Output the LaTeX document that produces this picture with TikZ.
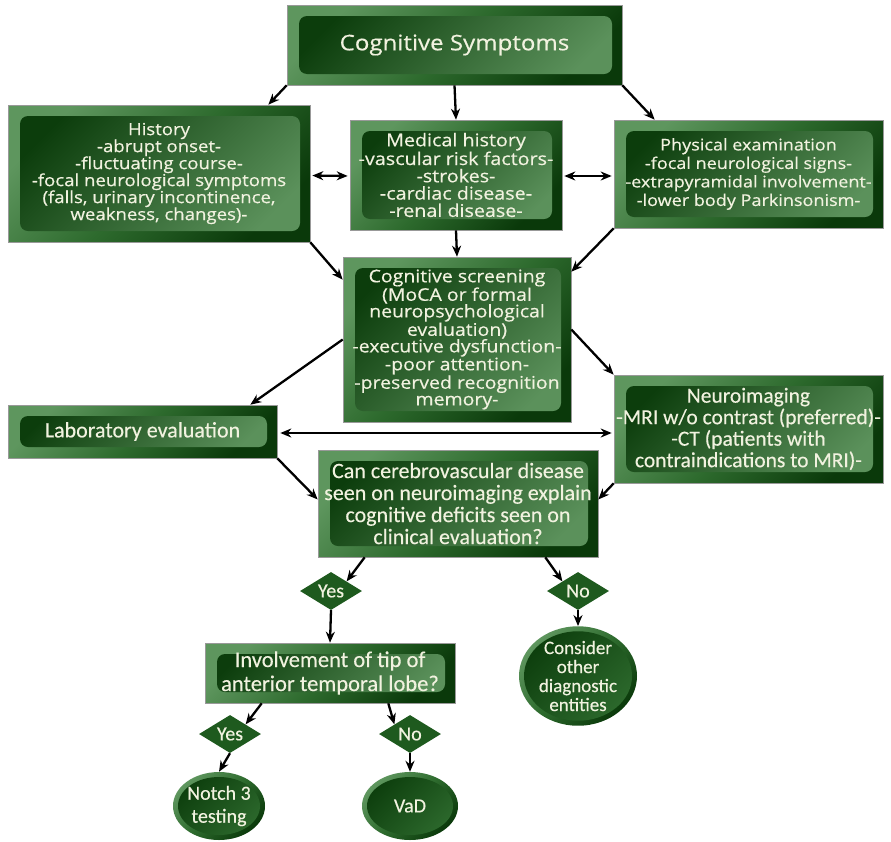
\documentclass[tikz,border=0pt]{standalone}
\usepackage{fontspec}
\setmainfont[FakeStretch=1.12,FakeBold=0.5]{Open Sans}
\newfontfamily\narrowfont[FakeBold=0.3]{Carlito}
\usepackage{tikz}
\usetikzlibrary{arrows.meta,calc,positioning,shapes.geometric}
\definecolor{gdark}{HTML}{0A390A}
\definecolor{gedge}{HTML}{5E965E}
\definecolor{gmid}{HTML}{2D6A2D}
\definecolor{ginner}{HTML}{0C3D0C}
\definecolor{glight}{HTML}{5B915B}
\definecolor{gdiam}{HTML}{1E5A1E}
\definecolor{gtext}{HTML}{F1F2DF}
\tikzset{
  >={Stealth[length=11pt,width=9pt]},
  garr/.style={->, black, line width=2.3pt},
  gdbl/.style={<->, black, line width=2.3pt},
  gbox/.style={shade, top color=gedge, bottom color=gdark, middle color=gmid,
               shading angle=45, draw=black!40, line width=0.6pt, text=gtext,
               align=center, inner sep=0pt,
               path picture={\shade[rounded corners=8pt, top color=ginner,
                 bottom color=glight, shading angle=45]
                 ($(path picture bounding box.south west)+(12pt,11pt)$) rectangle
                 ($(path picture bounding box.north east)+(-10pt,-11pt)$);}},
  gnarrow/.style={gbox, font=\narrowfont\fontsize{22}{22}\selectfont},
  gdiamond/.style={diamond, aspect=1.6, fill=gdiam, text=gtext, inner sep=0pt,
                   minimum width=62pt, minimum height=38pt,
                   font=\narrowfont\fontsize{20}{20}\selectfont},
  gell/.style={ellipse, shade, top color=gedge, bottom color=gdark,
               middle color=gmid, shading angle=45, text=gtext, align=center,
               inner sep=0pt, font=\narrowfont\fontsize{19}{19}\selectfont,
               path picture={\shade[top color=ginner, bottom color=gmid,
                 shading angle=45]
                 let \p1=($(path picture bounding box.north east)-(path picture bounding box.center)$)
                 in (path picture bounding box.center)
                 ellipse [x radius=\x1-5pt, y radius=\y1-5pt];}},
}
\begin{document}
\begin{tikzpicture}[x=1pt,y=-1pt]
  \useasboundingbox (0,0) rectangle (891,841);

  % caixas de cima
  \node[gbox, font=\fontsize{21.5}{22}\selectfont, minimum width=335pt, minimum height=80pt]
    (symp) at (454.5,45) {Cognitive Symptoms};
  \node[gbox, font=\fontsize{16.6}{17}\selectfont, minimum width=302pt, minimum height=137pt]
    (hist) at (159,173.5)
    {History\\-abrupt onset-\\-fluctuating course-\\-focal neurological symptoms\\
     (falls, urinary incontinence,\\weakness, changes)-};
  \node[gbox, font=\fontsize{17.6}{17.3}\selectfont, minimum width=212pt, minimum height=110pt]
    (medhist) at (456,175)
    {Medical history\\-vascular risk factors-\\-strokes-\\-cardiac disease-\\-renal disease-};
  \node[gbox, font=\fontsize{16.1}{18.5}\selectfont, minimum width=269pt, minimum height=108pt]
    (phys) at (748.5,174)
    {Physical examination\\-focal neurological signs-\\-extrapyramidal involvement-\\
     -lower body Parkinsonism-};

  % triagem cognitiva
  \node[gbox, font=\fontsize{17.4}{16.6}\selectfont, minimum width=228pt, minimum height=165pt]
    (screen) at (457,339.5)
    {Cognitive screening\\(MoCA or formal\\neuropsychological\\evaluation)\\
     -executive dysfunction-\\-poor attention-\\-preserved recognition\\memory-};

  % exames
  \node[gnarrow, minimum width=269pt, minimum height=53pt] (lab) at (142.5,431.5)
    {Laboratory evaluation};
  \node[gnarrow, font=\narrowfont\fontsize{21.5}{21.5}\selectfont,
        minimum width=269pt, minimum height=108pt] (neuro) at (748.5,429)
    {Neuroimaging\\-MRI w/o contrast (preferred)-\\-CT (patients with\\contraindications to MRI)-};
  \node[gnarrow, minimum width=280pt, minimum height=107pt] (cvd) at (458,503.5)
    {Can cerebrovascular disease\\seen on neuroimaging explain\\cognitive deficits seen on\\
     clinical evaluation?};

  % decisões
  \node[gdiamond] (yesA) at (331,591) {Yes};
  \node[gdiamond] (noA) at (578,591) {No};
  \node[gnarrow, font=\narrowfont\fontsize{22.5}{24}\selectfont,
        minimum width=250pt, minimum height=60pt] (tip) at (330,673)
    {Involvement of tip of\\anterior temporal lobe?};
  \node[gell, minimum width=118pt, minimum height=98pt] (other) at (578,676)
    {Consider\\other\\diagnostic\\entities};
  \node[gdiamond] (yesB) at (230,734) {Yes};
  \node[gdiamond] (noB) at (410,734) {No};
  \node[gell, font=\narrowfont\fontsize{20}{23}\selectfont, minimum width=92pt, minimum height=68pt]
    (notch) at (219,806) {Notch 3\\testing};
  \node[gell, font=\narrowfont\fontsize{20}{20}\selectfont, minimum width=96pt, minimum height=68pt]
    (vad) at (410,806) {VaD};

  % setas
  \draw[garr] (symp.south west) -- ($(hist.north east)+(-42,0)$);
  \draw[garr] (symp.south) -- (medhist.north);
  \draw[garr] (symp.south east) -- ($(phys.north west)+(41,0)$);
  \draw[gdbl, shorten <=2pt, shorten >=2pt] ($(hist.east)+(0,2)$) -- ($(medhist.west)+(0,1)$);
  \draw[gdbl, shorten <=2pt, shorten >=2pt] ($(medhist.east)+(0,1)$) -- ($(phys.west)+(0,2)$);
  \draw[garr] (medhist.south) -- (screen.north);
  \draw[garr] (hist.south east) -- ($(screen.north west)+(0,23)$);
  \draw[garr] (phys.south west) -- ($(screen.north east)+(0,15)$);
  \draw[garr] (screen.west) -- ($(lab.north east)+(-27,0)$);
  \draw[garr] ($(screen.east)+(0,-10)$) -- (neuro.north west);
  \draw[gdbl, shorten <=3pt, shorten >=2pt] ($(lab.east)+(0,1.5)$) -- ($(neuro.west)+(0,4)$);
  \draw[garr] (lab.south east) -- ($(cvd.west)+(0,-4)$);
  \draw[garr] (neuro.south west) -- ($(cvd.east)+(0,-4)$);
  \draw[garr] ($(cvd.south west)+(47,0)$) -- (yesA.north east);
  \draw[garr] ($(cvd.south east)+(-53,0)$) -- (noA.north west);
  \draw[garr] (yesA.south) -- (tip.north);
  \draw[garr] (noA.south) -- (other.north);
  \draw[garr] ($(tip.south west)+(57,0)$) -- (yesB.north east);
  \draw[garr] ($(tip.south east)+(-67,0)$) -- (noB.north west);
  \draw[garr] (yesB.south) -- (notch.north);
  \draw[garr] (noB.south) -- (vad.north);

\end{tikzpicture}
\end{document}
